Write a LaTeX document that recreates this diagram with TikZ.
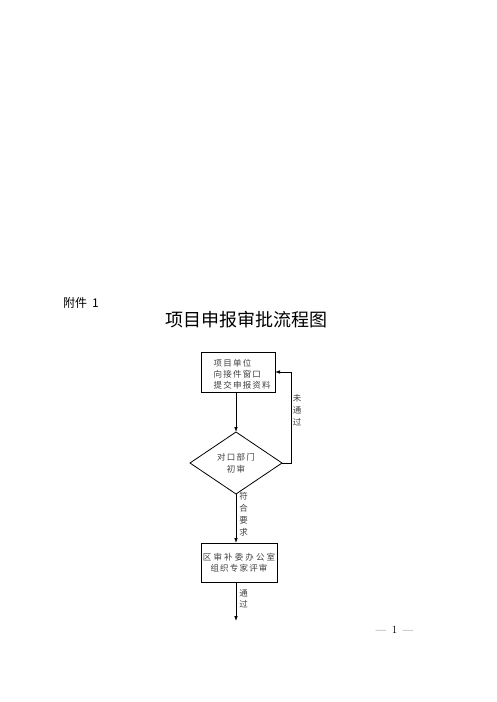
\documentclass[tikz,border=0pt]{standalone}
\usepackage{fontspec}
\newfontfamily\cjk{Noto Sans CJK SC}
\newfontfamily\cjkbox[LetterSpace=14]{Noto Sans CJK SC}
\newfontfamily\cjkwide[LetterSpace=25]{Noto Sans CJK SC}
\usetikzlibrary{arrows.meta}
\usetikzlibrary{positioning}
\usetikzlibrary{shapes.geometric}
\tikzset{flow/.style = {line width=0.8pt, -{Latex[length=5pt, width=3.6pt]}}}
\tikzset{box/.style = {draw, rectangle, line width=0.8pt, inner sep=0, outer sep=0}}
\tikzset{decision/.style = {draw, diamond, line width=0.8pt, inner sep=0, outer sep=0,
                            minimum width=92pt, minimum height=62pt, align=center}}
\tikzset{boxtext/.style = {inner sep=0, text=black!75, font=\cjkbox\fontsize{8.5}{11}\selectfont}}
\tikzset{vlabel/.style = {inner sep=0, align=center, text=black!75,
                          font=\cjkbox\fontsize{8.5}{11.9}\selectfont}}

\begin{document}
\begin{tikzpicture}[x=1pt, y=-1pt]
      \useasboundingbox (0, 0) rectangle (496, 702);

      \node [inner sep=0, anchor=west, font=\cjk\fontsize{12}{14}\selectfont] (annex) at (63, 303) {附件\hspace{5pt}1};
      \node [inner sep=0, font=\cjk\fontsize{18}{20}\selectfont] (title) at (246.5, 320) {项目申报审批流程图};

      \node [box, minimum width=74pt, minimum height=40pt] (apply) at (238, 372) {};
      \node [boxtext, anchor=west, align=left] (applytext) at (213.5, 374) {项目单位\\向接件窗口\\提交申报资料};

      \node [decision, text=black!75, font=\cjkbox\fontsize{8.5}{12}\selectfont] (check) at (236, 463) {对口部门\\初审};

      \node [box, boxtext, align=center, minimum width=76pt, minimum height=39pt] (review) at (239, 562.5)
            {{\cjkwide 区审补委办公室}\\组织专家评审};
      \coordinate (done) at (236, 621);

      \draw [flow] (check.north |- apply.south) -- (check.north);
      \draw [flow] (check.east) -- ++(9, 0) |- (apply.east);
      \draw [flow] (check.south) -- (check.south |- review.north);
      \draw [flow] (review.south -| check.south) -- (done);

      \node [vlabel] (fail) at (297, 410.5) {未\\通\\过};
      \node [vlabel] (meets) at (243.5, 514) {符\\合\\要\\求};
      \node [vlabel, font=\cjkbox\fontsize{8.5}{11}\selectfont] (pass) at (243.5, 599) {通\\过};

      \node [inner sep=0, font=\fontsize{11}{13}\selectfont] (page) at (394.5, 630) {—\enspace1\enspace—};
    \end{tikzpicture}
\end{document}
